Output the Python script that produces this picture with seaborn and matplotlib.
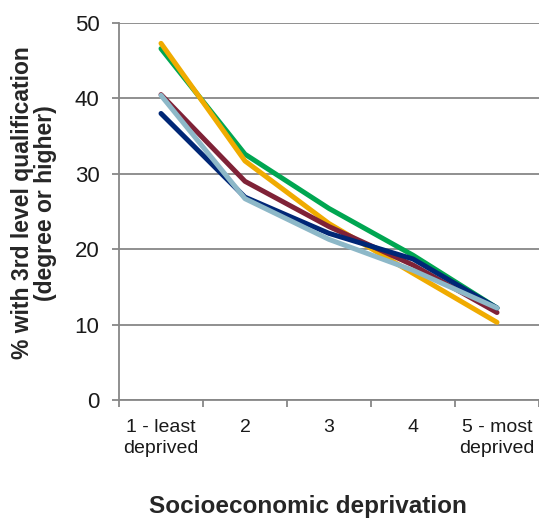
import pandas as pd
import matplotlib
matplotlib.use("Agg")
import matplotlib.pyplot as plt
import seaborn as sns

# --- data ---
categories = ["1 - least\ndeprived", "2", "3", "4", "5 - most\ndeprived"]
green = [46.6, 32.6, 25.4, 19.2, 12.2]
yellow = [47.3, 31.7, 23.4, 16.8, 10.3]
maroon = [40.5, 29.0, 23.0, 17.9, 11.6]
navy = [38.0, 26.9, 22.1, 18.7, 12.2]
light_blue = [40.4, 26.7, 21.3, 17.2, 12.2]

series_names = ["A", "B", "C", "D", "E"]
series_values = [green, yellow, maroon, navy, light_blue]
colors = ["#00A651", "#F0AB00", "#7F2237", "#002776", "#8DB8C8"]

rows = []
for name, vals in zip(series_names, series_values):
    for i, v in enumerate(vals):
        rows.append({"series": name, "pos": i, "value": v})
df = pd.DataFrame(rows)

# --- plotting ---
sns.set_style("white")
plt.rcParams["font.family"] = ["Liberation Sans", "DejaVu Sans"]

fig = plt.figure(figsize=(5.39, 5.19), dpi=100)
ax = fig.add_axes([0.2208, 0.2293, 0.7792, 0.7264])

sns.lineplot(data=df, x="pos", y="value", hue="series", palette=colors,
             linewidth=3.6, legend=False, ax=ax, solid_capstyle="round",
             zorder=3)

ax.set_xlim(-0.5, 4.5)
ax.set_ylim(0, 50)
ax.set_yticks([0, 10, 20, 30, 40, 50])
ax.yaxis.grid(True, color="#878787", linewidth=1.3)
ax.set_axisbelow(True)

ax.set_xticks(range(len(categories)))
ax.set_xticklabels(categories, fontsize=14, color="#1a1a1a", linespacing=1.3)
ax.set_xticks([x - 0.5 for x in range(len(categories) + 1)], minor=True)
ax.tick_params(axis="x", which="major", length=0, pad=14)
ax.tick_params(axis="x", which="minor", length=5, width=1.3, color="#878787",
               direction="out", bottom=True)
ax.tick_params(axis="y", length=5, width=1.3, color="#878787", direction="out",
               left=True, labelsize=16, pad=9, labelcolor="#1a1a1a")

for side in ["top", "right"]:
    ax.spines[side].set_visible(False)
for side in ["left", "bottom"]:
    ax.spines[side].set_color("#878787")
    ax.spines[side].set_linewidth(1.3)

ax.set_xlabel("")
ax.set_ylabel("")
fig.text(34 / 539, 1 - 203 / 519, "% with 3rd level qualification\n(degree or higher)",
         fontsize=16.5, fontweight="bold", rotation=90, ha="center", va="center",
         linespacing=1.05, multialignment="center")
fig.text(308 / 539, 1 - 513 / 519, "Socioeconomic deprivation",
         fontsize=17.5, fontweight="bold", ha="center", va="baseline")

fig.savefig("out.png", dpi=100)
